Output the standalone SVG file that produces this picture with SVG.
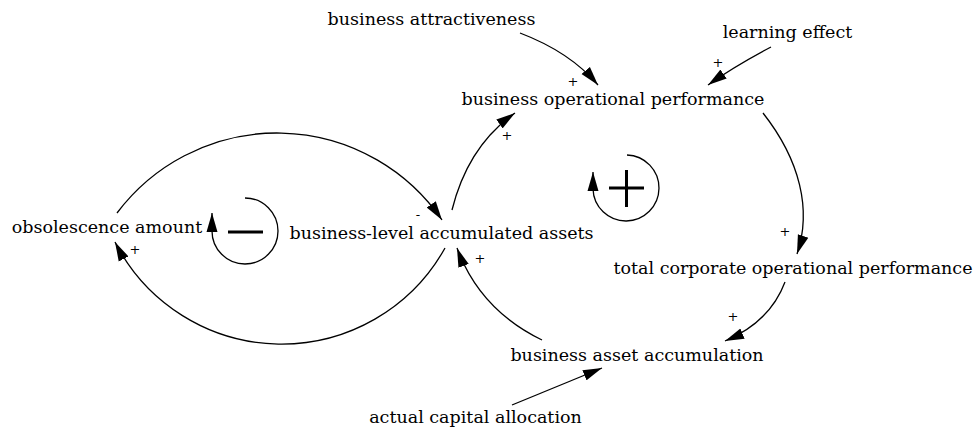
<svg xmlns="http://www.w3.org/2000/svg" width="978" height="432" viewBox="0 0 978 432">
  <style>
    .lbl { font-family: "DejaVu Serif", "Liberation Serif", serif; font-size: 17.5px; fill: #000; text-anchor: middle; }
    .pol { font-family: "DejaVu Serif", "Liberation Serif", serif; font-size: 13px; fill: #000; text-anchor: middle; }
    .link { fill: none; stroke: #000; stroke-width: 1.3; marker-end: url(#head); }
    .loop { fill: none; stroke: #000; stroke-width: 1.3; marker-end: url(#head); }
    .sign { stroke: #000; stroke-width: 3; fill: none; }
  </style>
  <defs>
    <marker id="head" markerUnits="userSpaceOnUse" markerWidth="20" markerHeight="12" viewBox="0 0 20 12" refX="19" refY="6" orient="auto">
      <path d="M0,0.5 L19,6 L0,11.5 Z" fill="#000"/>
    </marker>
  </defs>

  <!-- causal links -->
  <g id="connectors">
    <path class="link" d="M520,33 Q570,52 598,85"/>
    <path class="link" d="M771,47 Q735,66 708,85"/>
    <path class="link" d="M452,210 Q468,146 515,113"/>
    <path class="link" d="M763,113 C800,160 812,210 797,254"/>
    <path class="link" d="M785,282 Q770,322 725,341"/>
    <path class="link" d="M542,340 Q480,310 457,248"/>
    <path class="link" d="M512,405 L602,368"/>
    <path class="link" d="M445,248 A187,187 0 0 1 115,242"/>
    <path class="link" d="M117,213 A200,200 0 0 1 442,220"/>
  </g>

  <!-- link polarities -->
  <g id="polarities">
    <text class="pol" x="573" y="86">+</text>
    <text class="pol" x="718" y="67">+</text>
    <text class="pol" x="507" y="140">+</text>
    <text class="pol" x="785" y="236">+</text>
    <text class="pol" x="733" y="321">+</text>
    <text class="pol" x="480" y="263">+</text>
    <text class="pol" x="135" y="254">+</text>
    <text class="pol" x="418" y="219">-</text>
  </g>

  <!-- loop markers -->
  <g id="loop-balancing">
    <path class="loop" d="M245,198 A33,33 0 1 1 212,231 L212,213"/>
    <line class="sign" x1="228" y1="232" x2="263" y2="232"/>
  </g>
  <g id="loop-reinforcing">
    <path class="loop" d="M627,155 A33,33 0 1 1 593,189 L593,172"/>
    <line class="sign" stroke-width="2.5" x1="609" y1="188" x2="644" y2="188"/>
    <line class="sign" stroke-width="2.5" x1="626.5" y1="170" x2="626.5" y2="207"/>
  </g>

  <!-- variables -->
  <g id="business-attractiveness"><text class="lbl" x="431.5" y="25">business attractiveness</text></g>
  <g id="learning-effect"><text class="lbl" x="787.5" y="38">learning effect</text></g>
  <g id="business-operational-performance"><text class="lbl" x="613" y="105">business operational performance</text></g>
  <g id="obsolescence-amount"><text class="lbl" x="107" y="233">obsolescence amount</text></g>
  <g id="business-level-accumulated-assets"><text class="lbl" x="441.5" y="239">business-level accumulated assets</text></g>
  <g id="total-corporate-operational-performance"><text class="lbl" x="793" y="274">total corporate operational performance</text></g>
  <g id="business-asset-accumulation"><text class="lbl" x="637" y="361">business asset accumulation</text></g>
  <g id="actual-capital-allocation"><text class="lbl" x="475.5" y="423">actual capital allocation</text></g>
</svg>
